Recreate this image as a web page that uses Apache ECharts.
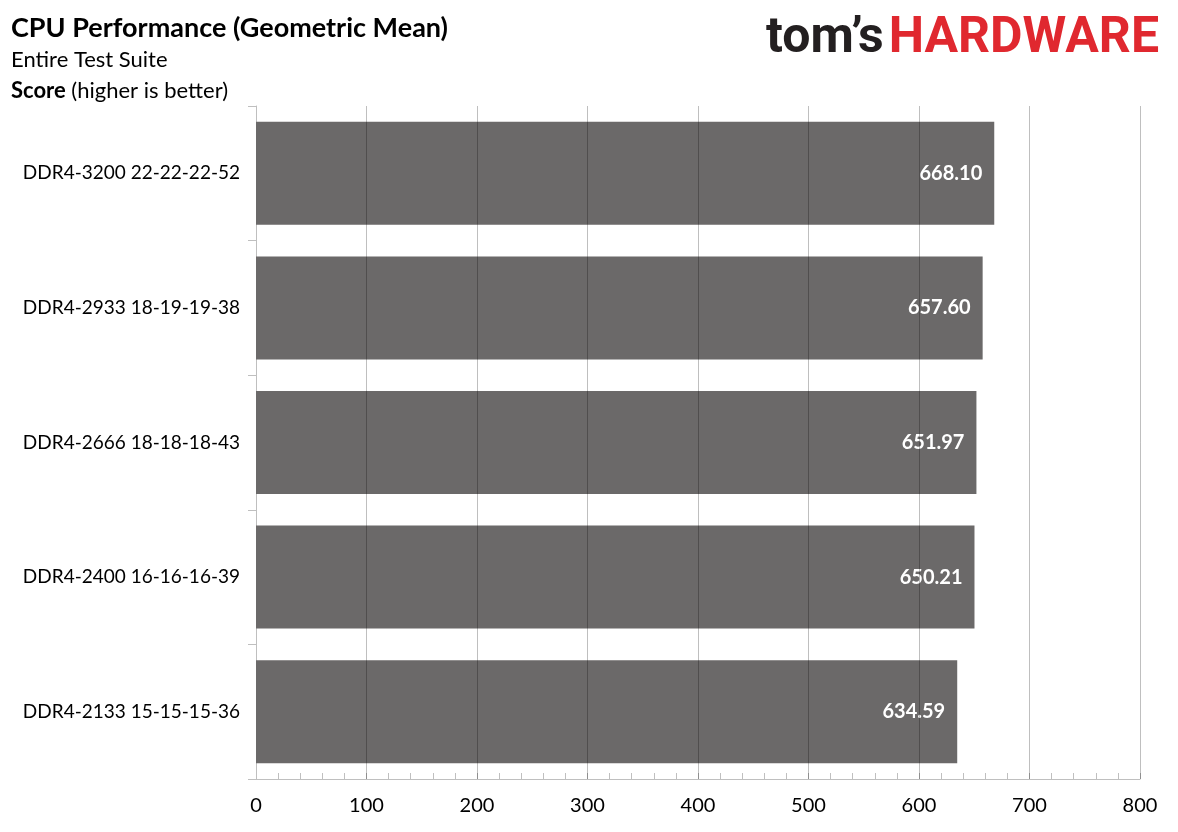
<!DOCTYPE html>
<html>
<head>
<meta charset="utf-8">
<script src="https://cdn.jsdelivr.net/npm/echarts@6/dist/echarts.min.js"></script>
<style>
  html, body { margin: 0; padding: 0; background: #fff; }
  #chart { width: 1178px; height: 832px; }
</style>
</head>
<body>
<div id="chart"></div>
<script>
// chart data
const configs = [
  "DDR4-3200 22-22-22-52",
  "DDR4-2933 18-19-19-38",
  "DDR4-2666 18-18-18-43",
  "DDR4-2400 16-16-16-39",
  "DDR4-2133 15-15-15-36"
];
const scores = [668.10, 657.60, 651.97, 650.21, 634.59];
const gridTicks = [100, 200, 300, 400, 500, 600, 700, 800];

const font = "Lato, 'Open Sans', sans-serif";
const logoFont = "Roboto, 'DejaVu Sans', sans-serif";
const chart = echarts.init(document.getElementById("chart"));

chart.setOption({
  backgroundColor: "#fff",
  animation: false,
  title: [
    {
      left: 6,
      top: 7,
      text: "{t|CPU Performance (Geometric Mean)}\n{s|Entire Test Suite}\n{b|Score}{s| (higher is better)}",
      textStyle: {
        fontFamily: font,
        lineHeight: 31,
        rich: {
          t: { fontSize: 27, fontWeight: "bold", color: "#000", fontFamily: font, lineHeight: 32 },
          s: { fontSize: 22, fontWeight: "normal", color: "#000", fontFamily: font, lineHeight: 31 },
          b: { fontSize: 22, fontWeight: "bold", color: "#000", fontFamily: font, lineHeight: 31 }
        }
      }
    },
    {
      right: 14,
      top: 9,
      text: "{a|tom’s}{b|HARDWARE}",
      textStyle: {
        rich: {
          a: { fontSize: 50, fontWeight: "bold", color: "#231f20", fontFamily: logoFont, padding: [0, 5, 0, 0] },
          b: { fontSize: 50, fontWeight: "bold", color: "#e0282f", fontFamily: logoFont }
        }
      }
    }
  ],
  grid: { left: 256, right: 38, top: 106, bottom: 53, containLabel: false },
  xAxis: {
    type: "value",
    min: 0,
    max: 800,
    interval: 100,
    axisLine: { show: true, lineStyle: { color: "#bfbfbf", width: 1 } },
    axisTick: { show: true, inside: true, length: 6, lineStyle: { color: "#bfbfbf" } },
    minorTick: { show: true, splitNumber: 5, length: 6, lineStyle: { color: "#bfbfbf" } },
    splitLine: { show: false },
    axisLabel: { color: "#000", fontSize: 20, fontFamily: font, margin: 17 }
  },
  yAxis: {
    type: "category",
    inverse: true,
    data: configs,
    axisLine: { show: true, lineStyle: { color: "#bfbfbf", width: 1 } },
    axisTick: { show: true, length: 8, lineStyle: { color: "#bfbfbf" } },
    axisLabel: { color: "#000", fontSize: 19, fontFamily: font, margin: 16 }
  },
  series: [
    {
      type: "bar",
      data: scores,
      barCategoryGap: "23.5%",
      itemStyle: { color: "#6b6969" },
      label: {
        show: true,
        position: "insideRight",
        distance: 12,
        color: "#fff",
        fontSize: 20,
        fontWeight: "bold",
        fontFamily: font,
        formatter: p => p.value.toFixed(2)
      },
      markLine: {
        silent: true,
        symbol: "none",
        label: { show: false },
        lineStyle: { color: "rgba(0,0,0,0.25)", width: 1, type: "solid" },
        data: gridTicks.map(v => ({ xAxis: v }))
      }
    }
  ]
});
</script>
</body>
</html>
